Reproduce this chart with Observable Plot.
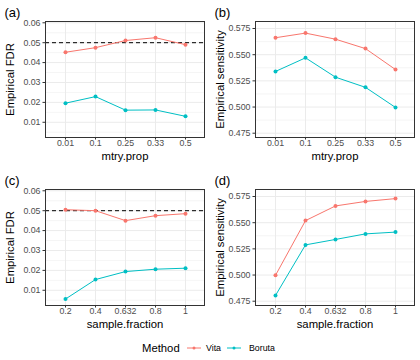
<!DOCTYPE html>
<html>
<head>
<meta charset="utf-8">
<script src="https://cdn.jsdelivr.net/npm/d3@7"></script>
<script src="https://cdn.jsdelivr.net/npm/@observablehq/plot@0.6"></script>
<style>
  body { margin: 0; background: #fff; }
  #chart { position: relative; width: 420px; height: 360px; background: #fff; font-family: "Liberation Sans", Arial, sans-serif; }
  .panel { position: absolute; }
  #legend { position: absolute; left: 0; top: 340px; width: 420px; height: 18px; }
  #legend span { position: absolute; white-space: nowrap; }
</style>
</head>
<body>
<div id="chart"></div>
<script>
// ---------------- data ----------------
const methods = ["Vita", "Boruta"];
const methodColors = ["#F8766D", "#00BFC4"];

const mtryProp = ["0.01", "0.1", "0.25", "0.33", "0.5"];
const fdrVitaMtry   = [0.0452, 0.0475, 0.0511, 0.0525, 0.0490];
const fdrBorutaMtry = [0.0196, 0.0229, 0.0161, 0.0162, 0.0130];
const sensVitaMtry   = [0.5662, 0.5706, 0.5648, 0.5558, 0.5358];
const sensBorutaMtry = [0.5340, 0.5470, 0.5285, 0.5188, 0.4996];

const sampleFraction = ["0.2", "0.4", "0.632", "0.8", "1"];
const fdrVitaSf   = [0.0505, 0.0500, 0.0450, 0.0475, 0.0485];
const fdrBorutaSf = [0.0056, 0.0154, 0.0194, 0.0206, 0.0211];
const sensVitaSf   = [0.4997, 0.5520, 0.5660, 0.5703, 0.5730];
const sensBorutaSf = [0.4805, 0.5288, 0.5340, 0.5393, 0.5410];

const fdrTicks  = [0.01, 0.02, 0.03, 0.04, 0.05, 0.06];
const sensTicks = [0.475, 0.500, 0.525, 0.550, 0.575];
const nominalFDR = 0.05;

// ---------------- helpers ----------------
const FONT = "'Liberation Sans', Arial, sans-serif";
function table(cats, vita, boruta) {
  const rows = [];
  cats.forEach((c, i) => rows.push({x: c, y: vita[i], method: "Vita"}));
  cats.forEach((c, i) => rows.push({x: c, y: boruta[i], method: "Boruta"}));
  return rows;
}
function minorOf(ticks, domain) {
  const step = ticks[1] - ticks[0];
  const out = [];
  for (let i = -1; i < ticks.length; i++) {
    const v = ticks[0] + (i + 0.5) * step;
    if (v > domain[0] && v < domain[1]) out.push(v);
  }
  return out;
}

function panel({cats, data, yDomain, ticks, fmt, xlabel, ylabel, tag, hline}) {
  const marks = [
    Plot.gridY(minorOf(ticks, yDomain), {stroke: "#EBEBEB", strokeOpacity: 1, strokeWidth: 0.5}),
    Plot.gridY(ticks, {stroke: "#EBEBEB", strokeOpacity: 1, strokeWidth: 1}),
    Plot.gridX(cats, {stroke: "#EBEBEB", strokeOpacity: 1, strokeWidth: 1}),
  ];
  if (hline != null) marks.push(Plot.ruleY([hline], {stroke: "black", strokeWidth: 1, strokeDasharray: "4,3"}));
  marks.push(
    Plot.line(data, {x: "x", y: "y", stroke: "method", strokeWidth: 1}),
    Plot.dot(data, {x: "x", y: "y", fill: "method", r: 2, stroke: null}),
    Plot.frame({stroke: "#333333", strokeWidth: 1}),
    Plot.axisY(ticks, {tickSize: 2.5, tickPadding: 2.5, stroke: "#333333", fill: "#4D4D4D", fontSize: 8.8, tickFormat: fmt, label: null}),
    Plot.axisX(cats, {tickSize: 2.5, tickPadding: 0, stroke: "#333333", fill: "#4D4D4D", fontSize: 8.8, label: null}),
    Plot.text([xlabel], {frameAnchor: "bottom", dy: 19, lineAnchor: "middle", textAnchor: "middle", text: d => d, fontSize: 11.3, fill: "black"}),
    Plot.text([ylabel], {frameAnchor: "left", dx: -35.5, rotate: -90, lineAnchor: "middle", textAnchor: "middle", text: d => d, fontSize: 11.3, fill: "black"}),
    Plot.text([tag], {frameAnchor: "top-left", dx: -41, dy: -8.5, lineAnchor: "middle", textAnchor: "start", text: d => d, fontSize: 13, fill: "black"})
  );
  return Plot.plot({
    width: 210, height: 168,
    marginTop: 21, marginBottom: 31, marginLeft: 45, marginRight: 6,
    style: {fontFamily: FONT, background: "transparent", overflow: "visible"},
    x: {type: "point", domain: cats, padding: 0.6},
    y: {domain: yDomain},
    color: {domain: methods, range: methodColors},
    marks
  });
}

const fdrDomain = [0.00235, 0.06065];
const sensDomain = [0.4709, 0.5817];

const specs = [
  {left: 0, top: 0, cats: mtryProp, data: table(mtryProp, fdrVitaMtry, fdrBorutaMtry), yDomain: fdrDomain, ticks: fdrTicks, fmt: d3.format(".2f"), xlabel: "mtry.prop", ylabel: "Empirical FDR", tag: "(a)", hline: nominalFDR},
  {left: 210, top: 0, cats: mtryProp, data: table(mtryProp, sensVitaMtry, sensBorutaMtry), yDomain: sensDomain, ticks: sensTicks, fmt: d3.format(".3f"), xlabel: "mtry.prop", ylabel: "Empirical sensitivity", tag: "(b)"},
  {left: 0, top: 168, cats: sampleFraction, data: table(sampleFraction, fdrVitaSf, fdrBorutaSf), yDomain: fdrDomain, ticks: fdrTicks, fmt: d3.format(".2f"), xlabel: "sample.fraction", ylabel: "Empirical FDR", tag: "(c)", hline: nominalFDR},
  {left: 210, top: 168, cats: sampleFraction, data: table(sampleFraction, sensVitaSf, sensBorutaSf), yDomain: sensDomain, ticks: sensTicks, fmt: d3.format(".3f"), xlabel: "sample.fraction", ylabel: "Empirical sensitivity", tag: "(d)"}
];

const chart = document.getElementById("chart");
for (const s of specs) {
  const wrap = document.createElement("div");
  wrap.className = "panel";
  wrap.style.left = s.left + "px";
  wrap.style.top = s.top + "px";
  wrap.appendChild(panel(s));
  chart.appendChild(wrap);
}

// ---------------- legend ----------------
const legend = document.createElement("div");
legend.id = "legend";
const title = document.createElement("span");
title.textContent = "Method";
title.style.cssText = "left:142px;top:0px;font-size:11.3px;line-height:16px;color:#000;";
legend.appendChild(title);
const keyLeft = [186, 226];
const labelLeft = [206, 249];
methods.forEach((m, i) => {
  const ns = "http://www.w3.org/2000/svg";
  const svg = document.createElementNS(ns, "svg");
  svg.setAttribute("width", 16); svg.setAttribute("height", 16);
  svg.style.cssText = `position:absolute;left:${keyLeft[i]}px;top:0px;`;
  const ln = document.createElementNS(ns, "line");
  ln.setAttribute("x1", 1); ln.setAttribute("x2", 15); ln.setAttribute("y1", 8); ln.setAttribute("y2", 8);
  ln.setAttribute("stroke", methodColors[i]); ln.setAttribute("stroke-width", 1);
  const c = document.createElementNS(ns, "circle");
  c.setAttribute("cx", 8); c.setAttribute("cy", 8); c.setAttribute("r", 1.5); c.setAttribute("fill", methodColors[i]);
  svg.appendChild(ln); svg.appendChild(c);
  legend.appendChild(svg);
  const lab = document.createElement("span");
  lab.textContent = m;
  lab.style.cssText = `left:${labelLeft[i]}px;top:0px;font-size:8.8px;line-height:16px;color:#000;`;
  legend.appendChild(lab);
});
chart.appendChild(legend);
</script>
</body>
</html>
